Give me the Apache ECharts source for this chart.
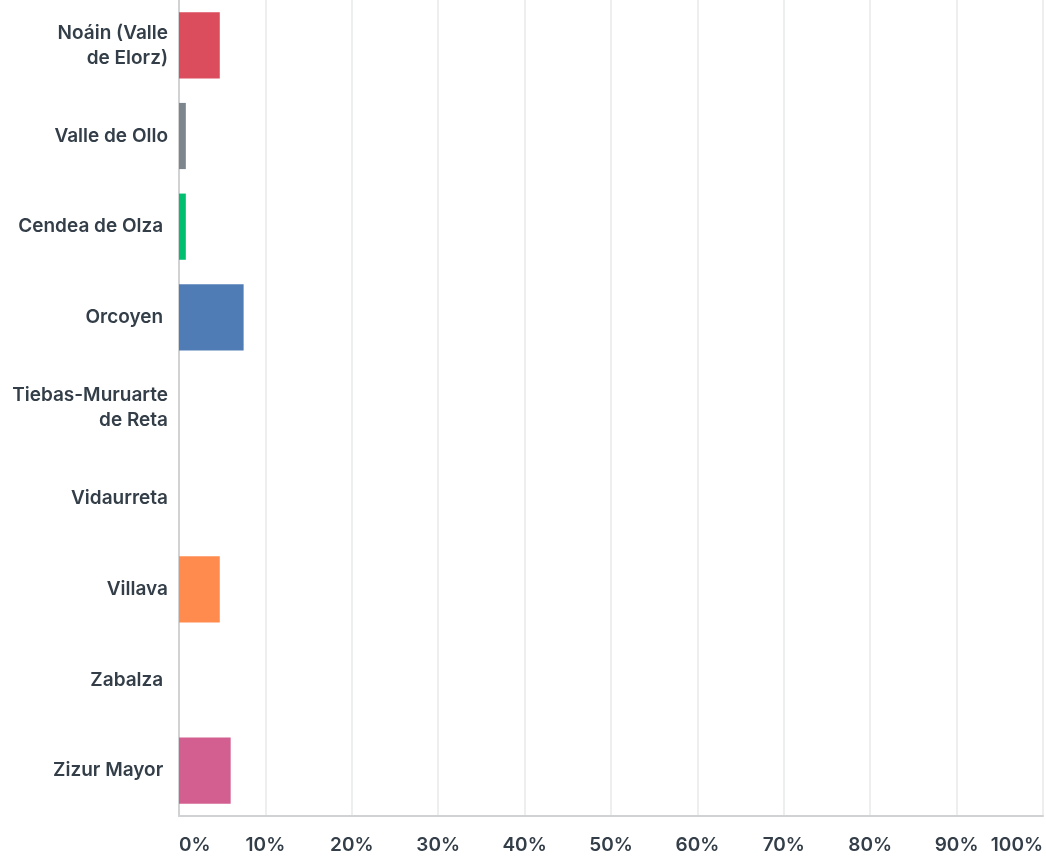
<!DOCTYPE html>
<html>
<head>
<meta charset="utf-8">
<script src="https://cdn.jsdelivr.net/npm/echarts@6/dist/echarts.min.js"></script>
<style>
  html, body { margin: 0; padding: 0; background: #fff; }
  #chart { width: 1046px; height: 857px; }
</style>
</head>
<body>
<div id="chart"></div>
<script>
// categories, top to bottom
var categories = [
    'Noáin (Valle\nde Elorz)',
    'Valle de Ollo',
    'Cendea de Olza ',
    'Orcoyen ',
    'Tiebas-Muruarte\nde Reta',
    'Vidaurreta',
    'Villava',
    'Zabalza ',
    'Zizur Mayor '
];
// percent of respondents
var values = [4.72, 0.79, 0.79, 7.48, 0, 0, 4.72, 0, 5.98];
var barColors = ['#DB4D5C', '#7D868C', '#00BF6F', '#507CB6', '#6BC8CD', '#F9BE00', '#FF8B4F', '#7F7FFF', '#D25F90'];

var chart = echarts.init(document.getElementById('chart'));

var textColor = '#333E48';
var fontFam = 'Inter, "Open Sans", sans-serif';

chart.setOption({
    animation: false,
    grid: { left: 179, right: 1, top: 0, bottom: 41, containLabel: false },
    xAxis: {
        type: 'value',
        min: 0,
        max: 100,
        interval: 10,
        axisLine: { show: true, lineStyle: { color: '#D0D2D3', width: 2 } },
        axisTick: { show: false },
        splitLine: { show: true, lineStyle: { color: '#EDEEEE', width: 2 } },
        axisLabel: {
            color: textColor,
            fontSize: 19,
            fontWeight: 600,
            fontFamily: fontFam,
            margin: 20,
            alignMinLabel: 'left',
            alignMaxLabel: 'right',
            formatter: '{value}%'
        }
    },
    yAxis: {
        type: 'category',
        inverse: true,
        data: categories,
        axisLine: { show: true, lineStyle: { color: '#D0D2D3', width: 2 } },
        axisTick: { show: false },
        axisLabel: {
            color: textColor,
            fontSize: 19,
            fontWeight: 600,
            fontFamily: fontFam,
            lineHeight: 25,
            margin: 11,
            align: 'right'
        }
    },
    series: [{
        type: 'bar',
        data: values.map(function(v, i) {
            return { value: v, itemStyle: { color: barColors[i] } };
        }),
        barCategoryGap: '27%'
    }]
});
</script>
</body>
</html>
